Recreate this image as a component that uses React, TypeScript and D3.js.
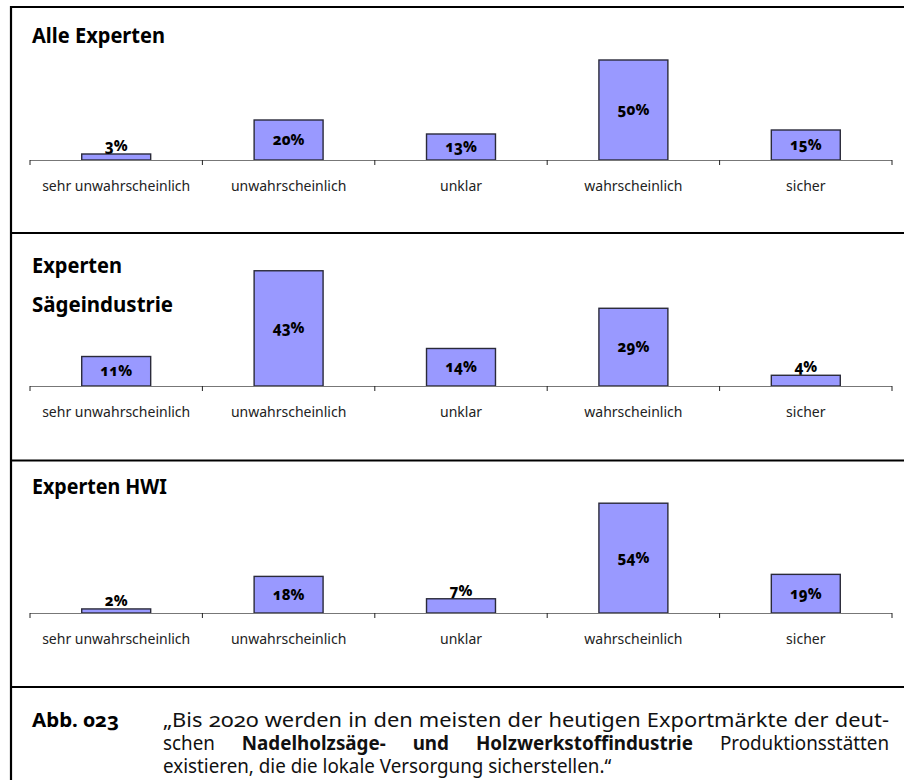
import React, { useMemo } from "react";
import * as d3 from "d3";

const categories = ["sehr unwahrscheinlich", "unwahrscheinlich", "unklar", "wahrscheinlich", "sicher"];
const allExperts = [3, 20, 13, 50, 15];
const saegeExperts = [11, 43, 14, 29, 4];
const hwiExperts = [2, 18, 7, 54, 19];
const panelTitles = [["Alle Experten"], ["Experten", "Sägeindustrie"], ["Experten HWI"]];
const figureLabel = "Abb. 023";
const captionLines = [
  [{ t: "„Bis 2020 werden in den meisten der heutigen Exportmärkte der deut-", b: false }],
  [
    { t: "schen", b: false },
    { t: "Nadelholzsäge- und Holzwerkstoffindustrie", b: true },
    { t: "Produktionsstätten", b: false },
  ],
  [{ t: "existieren, die die lokale Versorgung sicherstellen.“", b: false }],
];

const W = 904;
const H = 780;
const FONT = '"Noto Sans", "DejaVu Sans", sans-serif';

const panels = [
  { data: allExperts, top: 7, yMax: 60, plotH: 120, titleY: [43], titleW: [133] },
  { data: saegeExperts, top: 233, yMax: 50, plotH: 134, titleY: [272.5, 311.5], titleW: [90, 141] },
  { data: hwiExperts, top: 460, yMax: 60, plotH: 122, titleY: [493.5], titleW: [135] },
];

const x = d3.scaleBand<string>().domain(categories).range([30, 892]).paddingInner(0.6).paddingOuter(0.3);

function Panel({ p, titles }: { p: any; titles: string[] }) {
  const base = p.top + 153;
  const y = d3.scaleLinear().domain([0, p.yMax]).range([base, base - p.plotH]);
  const step = x.step();
  const r = x.range();
  const ticks = d3.range(categories.length + 1).map((i) => r[0] + i * step);
  return (
    <g>
      {titles.map((t, i) => (
        <text
          key={t}
          x={32}
          y={p.titleY[i]}
          fontFamily={FONT}
          fontWeight={700}
          fontSize={22}
          fill="#000"
          textLength={p.titleW[i]}
          lengthAdjust="spacingAndGlyphs"
        >
          {t}
        </text>
      ))}
      {categories.map((c, i) => {
        const v = p.data[i];
        const top = y(v);
        const h = base - top;
        const cx = (x(c) as number) + x.bandwidth() / 2;
        const inside = h >= 20;
        return (
          <g key={c}>
            <rect x={x(c)} y={top} width={x.bandwidth()} height={h} fill="#9999FF" stroke="#2a2a3a" strokeWidth={1.4} />
            <text
              x={cx}
              y={inside ? (top + base) / 2 + 5 : top - 3}
              textAnchor="middle"
              fontFamily={FONT}
              fontWeight={800}
              fontSize={15}
              fill="#000"
              style={{ fontVariantNumeric: "oldstyle-nums" }}
            >
              {v}%
            </text>
            <text x={cx} y={base + 31} textAnchor="middle" fontFamily={FONT} fontSize={14} fill="#222">
              {c}
            </text>
          </g>
        );
      })}
      <line x1={r[0]} x2={r[1]} y1={base + 0.5} y2={base + 0.5} stroke="#777" strokeWidth={1.2} />
      {ticks.map((t, i) => (
        <line key={i} x1={t} x2={t} y1={base} y2={base + 5} stroke="#222" strokeWidth={1} />
      ))}
    </g>
  );
}

export default function App() {
  const caption = useMemo(() => {
    const canvas = document.createElement("canvas");
    const ctx = canvas.getContext("2d") as CanvasRenderingContext2D;
    const fs = 20;
    const sx = 0.94;
    const x0 = 163;
    const x1 = 889;
    return captionLines.map((segs, li) => {
      const words: { w: string; b: boolean; width: number }[] = [];
      segs.forEach((s) => {
        s.t.split(" ").forEach((w) => {
          ctx.font = `${s.b ? 700 : 400} ${fs}px ${FONT}`;
          words.push({ w, b: s.b, width: ctx.measureText(w).width * sx });
        });
      });
      ctx.font = `400 ${fs}px ${FONT}`;
      const space = ctx.measureText(" ").width * sx;
      const total = d3.sum(words, (d) => d.width);
      const justify = li < captionLines.length - 1;
      let gap = justify ? (x1 - x0 - total) / (words.length - 1) : space;
      const hasBold = segs.some((s) => s.b);
      if (justify && !hasBold && gap > space * 1.25) {
        gap = space * 1.25;
        const k = (x1 - x0 - gap * (words.length - 1)) / total;
        words.forEach((d) => (d.width *= k));
      }
      let cur = x0;
      return words.map((d) => {
        const pos = { ...d, x: cur };
        cur += d.width + gap;
        return pos;
      });
    });
  }, []);

  return (
    <div style={{ position: "absolute", left: 0, top: 0 }}>
      <svg width={W} height={H} style={{ display: "block", background: "#fff" }}>
        <rect x={0} y={0} width={W} height={H} fill="#fff" />
        {panels.map((p, i) => (
          <Panel key={i} p={p} titles={panelTitles[i]} />
        ))}
        <line x1={11} x2={W} y1={7} y2={7} stroke="#000" strokeWidth={2.2} />
        <line x1={11} x2={W} y1={233} y2={233} stroke="#000" strokeWidth={2.2} />
        <line x1={11} x2={W} y1={460.5} y2={460.5} stroke="#000" strokeWidth={2.2} />
        <line x1={11} x2={W} y1={687} y2={687} stroke="#000" strokeWidth={2.2} />
        <line x1={11} x2={11} y1={6} y2={H} stroke="#000" strokeWidth={2.2} />
        <text
          x={32}
          y={727}
          fontFamily={FONT}
          fontWeight={700}
          fontSize={20}
          fill="#000"
          textLength={87}
          lengthAdjust="spacingAndGlyphs"
          style={{ fontVariantNumeric: "oldstyle-nums" }}
        >
          {figureLabel}
        </text>
        {caption.map((line, li) => (
          <g key={li}>
            {line.map((w, wi) => (
              <text
                key={wi}
                x={w.x}
                y={727 + li * 23}
                fontFamily={FONT}
                fontWeight={w.b ? 700 : 400}
                fontSize={20}
                fill="#111"
                textLength={w.width}
                lengthAdjust="spacingAndGlyphs"
                style={{ fontVariantNumeric: "oldstyle-nums" }}
              >
                {w.w}
              </text>
            ))}
          </g>
        ))}
      </svg>
    </div>
  );
}
